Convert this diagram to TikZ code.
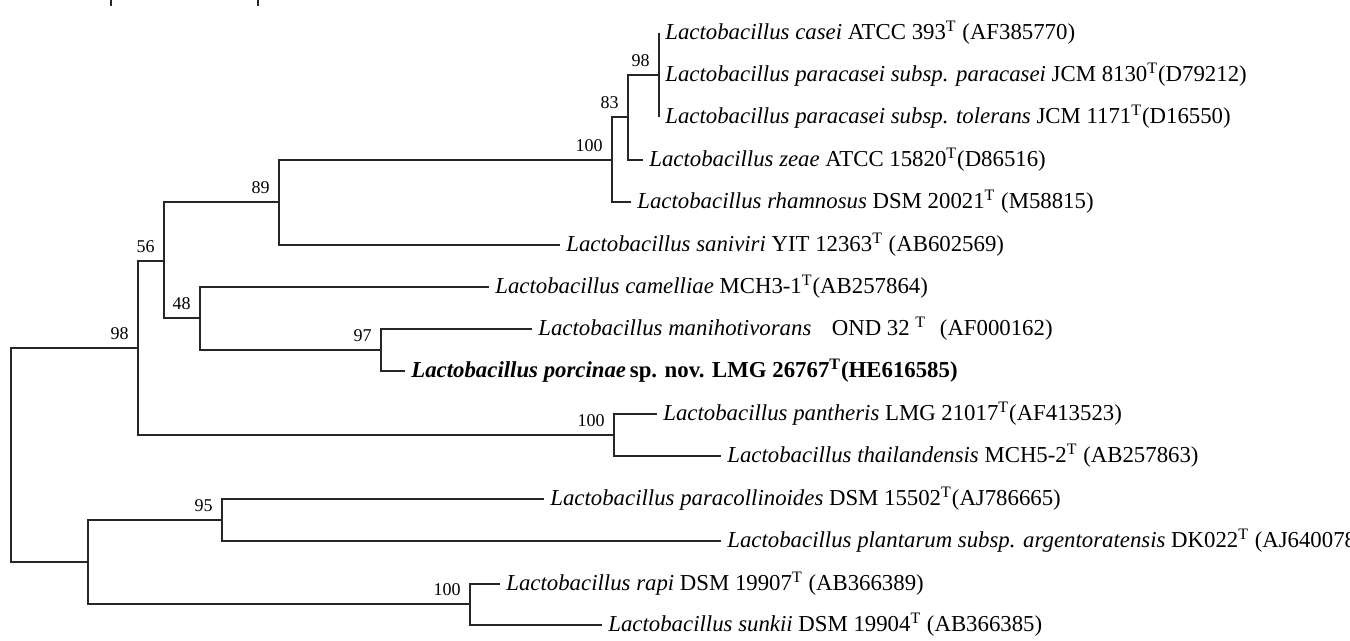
\documentclass[tikz,border=0pt]{standalone}
\usepackage{fontspec}
\setmainfont{Liberation Serif}
\usetikzlibrary{positioning}

\begin{document}
\begin{tikzpicture}[
    x=0.5pt, y=-0.5pt,
    leafNode/.style={anchor=west, inner sep=3pt, font=\fontsize{11.4pt}{13pt}\selectfont},
    bootLabel/.style={inner sep=0pt, font=\fontsize{9pt}{10pt}\selectfont},
    branchLine/.style={line width=0.9pt, draw=black!85}
]
    \useasboundingbox (0,0) rectangle (1350,641);
    \clip (0,0) rectangle (1350,641);

    % ends of the cut scale bar
    \draw[branchLine] (111,0) -- (111,6);
    \draw[branchLine] (258,0) -- (258,6);

    % leaves
    \node[leafNode] (casei) at (659,33) {\textit{Lactobacillus casei} ATCC 393\textsuperscript{T} (AF385770)};
    \node[leafNode] (paracasei) at (659,75) {\textit{Lactobacillus paracasei subsp. paracasei} JCM 8130\textsuperscript{T}(D79212)};
    \node[leafNode] (tolerans) at (659,117) {\textit{Lactobacillus paracasei subsp. tolerans} JCM 1171\textsuperscript{T}(D16550)};
    \node[leafNode] (zeae) at (643,160) {\textit{Lactobacillus zeae} ATCC 15820\textsuperscript{T}(D86516)};
    \node[leafNode] (rhamnosus) at (631,202) {\textit{Lactobacillus rhamnosus} DSM 20021\textsuperscript{T} (M58815)};
    \node[leafNode] (saniviri) at (560,245) {\textit{Lactobacillus saniviri} YIT 12363\textsuperscript{T} (AB602569)};
    \node[leafNode] (camelliae) at (489,287) {\textit{Lactobacillus camelliae} MCH3-1\textsuperscript{T}(AB257864)};
    \node[leafNode] (manihot) at (532,329) {\textit{Lactobacillus manihotivorans}\hspace{0.9em}OND 32\hspace{0.25em}\textsuperscript{T}\hspace{0.6em}(AF000162)};
    \node[leafNode] (porcinae) at (405,371) {\textbf{\textit{Lactobacillus porcinae}\,sp. nov. LMG 26767\textsuperscript{T}(HE616585)}};
    \node[leafNode] (pantheris) at (657,414) {\textit{Lactobacillus pantheris} LMG 21017\textsuperscript{T}(AF413523)};
    \node[leafNode] (thailand) at (721,456) {\textit{Lactobacillus thailandensis} MCH5-2\textsuperscript{T} (AB257863)};
    \node[leafNode] (paracoll) at (544,499) {\textit{Lactobacillus paracollinoides} DSM 15502\textsuperscript{T}(AJ786665)};
    \node[leafNode] (plantarum) at (721,541) {\textit{Lactobacillus plantarum subsp. argentoratensis} DK022\textsuperscript{T} (AJ640078)};
    \node[leafNode] (rapi) at (500,584) {\textit{Lactobacillus rapi} DSM 19907\textsuperscript{T} (AB366389)};
    \node[leafNode] (sunkii) at (602,625) {\textit{Lactobacillus sunkii} DSM 19904\textsuperscript{T} (AB366385)};

    % inner nodes
    \coordinate (n98a) at (659,75);
    \coordinate (n83) at (628,117);
    \coordinate (n100a) at (612,160);
    \coordinate (n89) at (279,202);
    \coordinate (n56) at (164,261);
    \coordinate (n48) at (200,318);
    \coordinate (n97) at (381,350);
    \coordinate (n98b) at (138,348);
    \coordinate (n100b) at (614,435);
    \coordinate (root) at (11,455);
    \coordinate (nBot) at (88,562);
    \coordinate (n95) at (222,520);
    \coordinate (n100c) at (470,604);

    % branches
    \draw[branchLine] (casei.west) -- (tolerans.west);
    \draw[branchLine] (n83) |- (n98a);
    \draw[branchLine] (n83) |- (zeae.west);
    \draw[branchLine] (n100a) |- (n83);
    \draw[branchLine] (n100a) |- (rhamnosus.west);
    \draw[branchLine] (n89) |- (n100a);
    \draw[branchLine] (n89) |- (saniviri.west);
    \draw[branchLine] (n56) |- (n89);
    \draw[branchLine] (n56) |- (n48);
    \draw[branchLine] (n48) |- (camelliae.west);
    \draw[branchLine] (n48) |- (n97);
    \draw[branchLine] (n97) |- (manihot.west);
    \draw[branchLine] (n97) |- (porcinae.west);
    \draw[branchLine] (n98b) |- (n56);
    \draw[branchLine] (n98b) |- (n100b);
    \draw[branchLine] (n100b) |- (pantheris.west);
    \draw[branchLine] (n100b) |- (thailand.west);
    \draw[branchLine] (root) |- (n98b);
    \draw[branchLine] (root) |- (nBot);
    \draw[branchLine] (nBot) |- (n95);
    \draw[branchLine] (nBot) |- (n100c);
    \draw[branchLine] (n95) |- (paracoll.west);
    \draw[branchLine] (n95) |- (plantarum.west);
    \draw[branchLine] (n100c) |- (rapi.west);
    \draw[branchLine] (n100c) |- (sunkii.west);

    % bootstrap values
    \node[bootLabel, above left=4pt and 4.5pt of n98a] (b98a) {98};
    \node[bootLabel, above left=4pt and 4.5pt of n83] (b83) {83};
    \node[bootLabel, above left=4pt and 4.5pt of n100a] (b100a) {100};
    \node[bootLabel, above left=4pt and 4.5pt of n89] (b89) {89};
    \node[bootLabel, above left=4pt and 4.5pt of n56] (b56) {56};
    \node[bootLabel, above left=4pt and 4.5pt of n48] (b48) {48};
    \node[bootLabel, above left=4pt and 4.5pt of n97] (b97) {97};
    \node[bootLabel, above left=4pt and 4.5pt of n98b] (b98b) {98};
    \node[bootLabel, above left=4pt and 4.5pt of n100b] (b100b) {100};
    \node[bootLabel, above left=4pt and 4.5pt of n95] (b95) {95};
    \node[bootLabel, above left=4pt and 4.5pt of n100c] (b100c) {100};
\end{tikzpicture}
\end{document}
